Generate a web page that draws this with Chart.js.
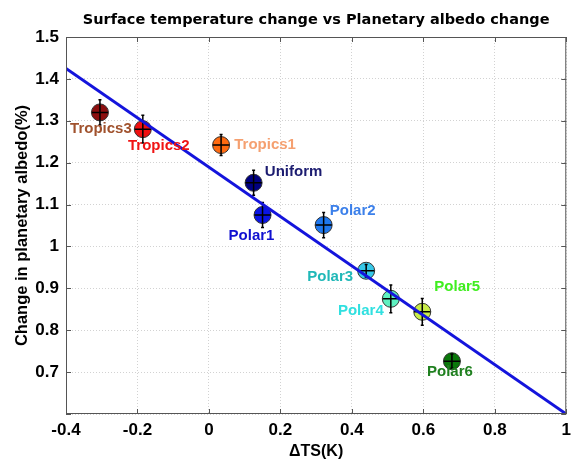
<!DOCTYPE html>
<html lang="en">
<head>
    <meta charset="UTF-8">
    <title>Surface temperature change vs Planetary albedo change</title>
    <script src="https://cdn.jsdelivr.net/npm/chart.js"></script>
    <style>
        html, body { margin: 0; padding: 0; background: #fff; }
        .graph-container { position: relative; width: 577px; height: 460px; }
    </style>
</head>
<body>
    <div class="graph-container">
        <canvas id="albedoChart"></canvas>
    </div>

    <script>
        const runNames = ['Tropics3', 'Tropics2', 'Tropics1', 'Uniform', 'Polar1',
                          'Polar2', 'Polar3', 'Polar4', 'Polar5', 'Polar6'];
        const deltaTS = [-0.305, -0.185, 0.034, 0.125, 0.15, 0.321, 0.44, 0.509, 0.597, 0.68];
        const albedoChange = [1.32, 1.28, 1.242, 1.152, 1.075, 1.051, 0.942, 0.875, 0.844, 0.726];
        const errTS = [0.023, 0.023, 0.023, 0.023, 0.023, 0.023, 0.023, 0.023, 0.023, 0.023];
        const errAlbedo = [0.03, 0.033, 0.025, 0.03, 0.03, 0.03, 0.015, 0.033, 0.032, 0.017];

        // Fit line end points
        const fitX = [-0.4, 1];
        const fitY = [1.425, 0.6];

        // Tick labels
        const xTickLabels = ['-0.4', '-0.2', '0', '0.2', '0.4', '0.6', '0.8', '1'];
        const yTickLabels = ['', '0.7', '0.8', '0.9', '1', '1.1', '1.2', '1.3', '1.4', '1.5'];

        const chartTitle = 'Surface temperature change vs Planetary albedo change';

        // Colours
        const markerColors = ['#8c0f0f', '#f01010', '#ff6a10', '#000080', '#0a14e6',
                              '#1e78f0', '#36c8e8', '#5ef0c0', '#c8ec48', '#0a780a'];
        const labelColors = ['#a0522d', '#f01414', '#f5a070', '#1c1c70', '#1010d0',
                             '#3c80ea', '#20b8b8', '#30e0e0', '#40ee20', '#208020'];
        // label offset from the marker centre, in pixels
        const labelOffsets = [[1, 16], [16, 17], [44, 0], [40, -11], [-11, 21],
                              [29, -14], [-36, 6], [-30, 12], [35, -25], [-2, 11]];

        const labelFont = 'bold 15px "Liberation Sans", Arial, sans-serif';

        // crosses and error bars drawn right after the scatter markers
        const errorBars = {
            id: 'errorBars',
            afterDatasetDraw(chart, args) {
                if (args.index !== 1) return;
                const {ctx, scales: {x, y}} = chart;
                ctx.save();
                ctx.strokeStyle = '#000';
                ctx.lineWidth = 1.5;
                deltaTS.forEach((v, i) => {
                    const px = x.getPixelForValue(v);
                    const py = y.getPixelForValue(albedoChange[i]);
                    const x0 = x.getPixelForValue(v - errTS[i]);
                    const x1 = x.getPixelForValue(v + errTS[i]);
                    const y0 = y.getPixelForValue(albedoChange[i] + errAlbedo[i]);
                    const y1 = y.getPixelForValue(albedoChange[i] - errAlbedo[i]);
                    ctx.beginPath();
                    ctx.moveTo(x0, py); ctx.lineTo(x1, py);
                    ctx.moveTo(px, y0); ctx.lineTo(px, y1);
                    // little caps
                    ctx.moveTo(px - 1.5, y0); ctx.lineTo(px + 1.5, y0);
                    ctx.moveTo(px - 1.5, y1); ctx.lineTo(px + 1.5, y1);
                    ctx.stroke();
                });
                ctx.restore();
            },
            afterDraw(chart) {
                const {ctx, chartArea: a, scales: {x, y}} = chart;
                ctx.save();
                // box + inner ticks
                ctx.strokeStyle = '#555';
                ctx.lineWidth = 1;
                ctx.strokeRect(a.left + 0.5, a.top + 0.5, a.right - a.left - 1, a.bottom - a.top - 1);
                ctx.beginPath();
                x.ticks.forEach(t => {
                    const px = Math.round(x.getPixelForValue(t.value)) + 0.5;
                    ctx.moveTo(px, a.bottom); ctx.lineTo(px, a.bottom - 5);
                    ctx.moveTo(px, a.top); ctx.lineTo(px, a.top + 5);
                });
                y.ticks.forEach(t => {
                    const py = Math.round(y.getPixelForValue(t.value)) + 0.5;
                    ctx.moveTo(a.left, py); ctx.lineTo(a.left + 5, py);
                    ctx.moveTo(a.right, py); ctx.lineTo(a.right - 5, py);
                });
                ctx.stroke();

                // title, centred over the plot box
                ctx.fillStyle = '#000';
                ctx.font = 'bold 14.5px "DejaVu Sans", sans-serif';
                ctx.textAlign = 'center';
                ctx.textBaseline = 'middle';
                ctx.fillText(chartTitle, (a.left + a.right) / 2, 20);

                // run labels
                ctx.font = labelFont;
                runNames.forEach((name, i) => {
                    ctx.fillStyle = labelColors[i];
                    ctx.fillText(name,
                        x.getPixelForValue(deltaTS[i]) + labelOffsets[i][0],
                        y.getPixelForValue(albedoChange[i]) + labelOffsets[i][1]);
                });
                ctx.restore();
            }
        };

        const gridStyle = {
            color: '#d2d2d2',
            lineWidth: 1,
            drawTicks: false
        };

        new Chart(document.getElementById('albedoChart'), {
            data: {
                datasets: [{
                    type: 'line',
                    data: fitX.map((v, i) => ({x: v, y: fitY[i]})),
                    borderColor: '#1414dc',
                    borderWidth: 3,
                    pointRadius: 0,
                    fill: false
                }, {
                    type: 'scatter',
                    data: deltaTS.map((v, i) => ({x: v, y: albedoChange[i]})),
                    backgroundColor: markerColors,
                    borderColor: '#333',
                    borderWidth: 1,
                    pointRadius: 8.5
                }]
            },
            options: {
                responsive: true,
                maintainAspectRatio: false,
                animation: false,
                layout: { padding: { top: 37, right: 4, left: 0, bottom: 0 } },
                plugins: {
                    legend: { display: false },
                    tooltip: { enabled: false },
                    title: { display: false }
                },
                scales: {
                    x: {
                        type: 'linear',
                        min: -0.4,
                        max: 1,
                        grid: { ...gridStyle },
                        border: { display: false, dash: [1, 2] },
                        ticks: {
                            stepSize: 0.2,
                            padding: 6,
                            color: '#000',
                            font: { family: '"Liberation Sans", Arial, sans-serif', size: 17, weight: 'bold' },
                            callback: (v, i) => xTickLabels[i]
                        },
                        title: {
                            display: true,
                            text: 'ΔTS(K)',
                            color: '#000',
                            font: { family: '"Liberation Sans", Arial, sans-serif', size: 16, weight: 'bold', lineHeight: 1 },
                            padding: { top: 0, bottom: 0 }
                        },
                        afterFit: s => { s.height = 46; }
                    },
                    y: {
                        type: 'linear',
                        min: 0.6,
                        max: 1.5,
                        grid: { ...gridStyle },
                        border: { display: false, dash: [1, 2] },
                        ticks: {
                            stepSize: 0.1,
                            padding: 7,
                            color: '#000',
                            font: { family: '"Liberation Sans", Arial, sans-serif', size: 17, weight: 'bold' },
                            callback: (v, i) => yTickLabels[i]
                        },
                        title: {
                            display: true,
                            text: 'Change in planetary albedo(%)',
                            color: '#000',
                            font: { family: '"Liberation Sans", Arial, sans-serif', size: 16.5, weight: 'bold', lineHeight: 1.2 },
                            padding: { top: 13, bottom: 0 }
                        },
                        afterFit: s => { s.width = 66; }
                    }
                }
            },
            plugins: [errorBars]
        });
    </script>
</body>
</html>
